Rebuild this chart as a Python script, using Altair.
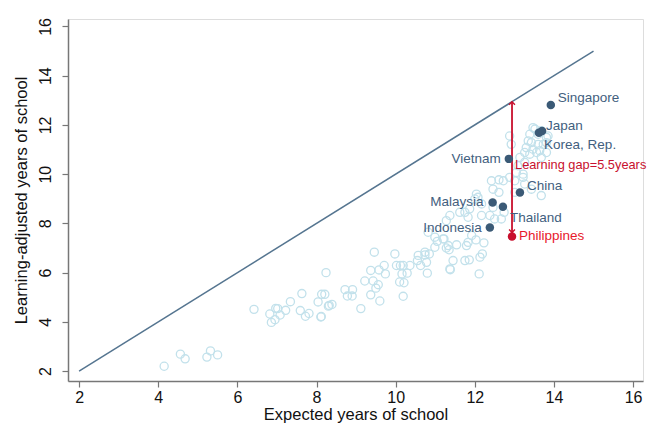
import altair as alt
import pandas as pd

# Background countries (expected years, learning-adjusted years)
bg_x = [4.15, 4.56, 4.68, 5.23, 5.32, 5.5,
        6.42, 6.82, 6.86, 6.95, 6.97, 7.02, 7.08, 7.22, 7.34, 7.59, 7.63, 7.72, 7.81, 8.04,
        8.11, 8.12, 8.13, 8.21, 8.24, 8.3, 8.32, 8.39,
        8.72, 8.91, 8.78, 8.9, 9.12, 9.22, 9.37, 9.37, 9.43, 9.5, 9.56, 9.58, 9.6, 9.71, 9.74, 9.46, 9.98,
        10.02, 10.12, 10.19, 10.36, 10.16, 10.29, 10.1, 10.21, 10.19, 10.55, 10.63, 10.74, 10.78, 10.8,
        10.85, 10.99, 11.05, 11.22, 11.28, 11.35, 11.45, 11.38, 11.54, 11.75, 11.86, 11.79, 11.83, 12.03,
        12.19, 12.23, 12.11,
        10.57, 10.74, 10.82, 10.99, 11.2, 11.33, 11.92, 12.13, 11.37,
        11.37, 11.28, 11.62, 11.75, 11.83, 11.87, 12.17, 12.38, 12.5, 12.67, 12.74, 12.46, 12.17, 12.04,
        12.08, 12.0, 12.42, 12.61, 12.46, 12.61, 12.88, 13.01, 13.22, 13.26, 13.43, 13.68, 12.72, 13.01,
        13.05, 13.22,
        13.52, 13.6, 13.68, 13.81, 13.39, 13.35, 13.43, 13.6, 13.73, 13.3, 13.47, 13.64, 13.26, 13.39,
        13.56, 13.81, 13.68, 13.14, 13.26, 13.09, 12.88, 12.92, 13.47, 13.85, 13.81]
bg_y = [2.2, 2.69, 2.5, 2.57, 2.82, 2.66,
        4.51, 4.32, 3.98, 4.09, 4.55, 4.54, 4.28, 4.47, 4.82, 4.46, 5.15, 4.23, 4.34, 4.81,
        4.2, 4.22, 5.12, 5.12, 6.0, 4.64, 4.67, 4.71,
        5.31, 5.31, 5.05, 5.05, 4.54, 5.66, 5.1, 6.09, 5.66, 5.37, 5.51, 6.11, 4.85, 6.29, 5.95, 6.83, 6.76,
        6.29, 6.29, 6.29, 6.29, 5.95, 5.98, 5.62, 5.59, 5.04, 6.49, 6.29, 6.72, 6.42, 5.98,
        6.76, 7.03, 7.27, 7.37, 7.0, 6.93, 6.49, 6.12, 7.13, 6.49, 6.52, 7.1, 7.23, 7.33,
        6.76, 7.21, 5.95,
        6.7, 6.83, 7.64, 7.44, 7.37, 7.1, 7.51, 6.63, 6.15,
        8.32, 8.11, 8.45, 8.45, 8.25, 8.59, 8.32, 8.32, 8.18, 8.18, 8.45, 8.65, 8.79, 9.19,
        9.06, 8.99, 9.73, 9.77, 9.39, 9.26, 9.87, 9.26, 9.87, 9.6, 9.39, 9.13, 9.73, 9.73,
        10.07, 10.0,
        11.83, 11.62, 11.76, 11.49, 11.62, 11.35, 11.28, 11.21, 11.21, 11.08, 11.01, 10.95, 10.88, 10.81,
        10.88, 10.88, 10.68, 10.68, 10.48, 10.34, 11.55, 11.21, 11.89, 11.55, 11.28]

# Highlighted countries
hl_names = ["Singapore", "Japan", "Korea, Rep.", "Vietnam", "China", "Malaysia", "Thailand", "Indonesia"]
hl_x = [13.92, 13.62, 13.7, 12.86, 13.14, 12.45, 12.71, 12.38]
hl_y = [12.81, 11.68, 11.75, 10.62, 9.25, 8.85, 8.68, 7.83]

ph_name = "Philippines"
ph_x = 12.94
ph_y = 7.47

diag_x = [2, 15]
diag_y = [2, 15]

gap_label = "Learning gap=5.5years"
gap_label_y = 10.38

x_ticks = [2, 4, 6, 8, 10, 12, 14, 16]
y_ticks = [2, 4, 6, 8, 10, 12, 14, 16]

FONT = "Liberation Sans"
HL_COLOR = "#3b5a76"
TXT_COLOR = "#42607e"
RED = "#c8102e"
RED_TXT = "#e8192c"

bg_df = pd.DataFrame({"x": bg_x, "y": bg_y})
hl_df = pd.DataFrame({"name": hl_names, "x": hl_x, "y": hl_y})
ph_df = pd.DataFrame({"name": [ph_name], "x": [ph_x], "y": [ph_y]})
diag_df = pd.DataFrame({"x": diag_x, "y": diag_y})
arrow_df = pd.DataFrame({"x": [ph_x], "y": [ph_y], "y2": [ph_x]})
gap_df = pd.DataFrame({"x": [ph_x], "y": [gap_label_y], "t": [gap_label]})

xs = alt.Scale(domain=[1.72, 16.25], nice=False, zero=False)
ys = alt.Scale(domain=[1.6, 16.3], nice=False, zero=False)

X = alt.X("x:Q", scale=xs, title="Expected years of school",
          axis=alt.Axis(values=x_ticks, grid=False, domainColor="#777777", tickColor="#777777",
                        domainWidth=1.5, tickWidth=1.2, tickSize=6, labelPadding=2,
                        labelFontSize=16, labelFont=FONT, labelColor="#111111",
                        titleFontSize=16.5, titleFont=FONT, titleFontWeight="normal",
                        titleColor="#111111", titlePadding=1))
Y = alt.Y("y:Q", scale=ys, title="Learning-adjusted years of school",
          axis=alt.Axis(values=y_ticks, grid=False, domainColor="#777777", tickColor="#777777",
                        domainWidth=1.5, tickWidth=1.2, tickSize=6, labelPadding=9,
                        labelAngle=270, labelAlign="center", labelBaseline="bottom",
                        labelFontSize=16, labelFont=FONT, labelColor="#111111",
                        titleFontSize=16.5, titleFont=FONT, titleFontWeight="normal",
                        titleColor="#111111", titlePadding=8))

diag = alt.Chart(diag_df).mark_line(color="#557590", strokeWidth=1.5).encode(x=X, y=Y)

bg = alt.Chart(bg_df).mark_point(shape="circle", filled=False, size=66, strokeWidth=1.3,
                                 color="#c2e1eb", opacity=1).encode(x="x:Q", y="y:Q")

arrow = alt.Chart(arrow_df).mark_rule(color=RED, strokeWidth=1.8).encode(x="x:Q", y="y:Q", y2="y2:Q")
head_top = alt.Chart(arrow_df).mark_point(shape="M-0.7,0.7L0,0L0.7,0.7", filled=False, size=70,
                                          strokeWidth=1.4, color=RED, opacity=1).encode(
    x="x:Q", y=alt.Y("y2:Q"))
head_bot = alt.Chart(arrow_df).mark_point(shape="M-0.7,-0.7L0,0L0.7,-0.7", filled=False, size=70,
                                          strokeWidth=1.4, color=RED, opacity=1).encode(
    x="x:Q", y="y:Q", yOffset=alt.value(-4))

hl = alt.Chart(hl_df).mark_point(shape="circle", filled=True, size=72, color=HL_COLOR,
                                 opacity=1).encode(x="x:Q", y="y:Q")
ph = alt.Chart(ph_df).mark_point(shape="circle", filled=True, size=72, color=RED,
                                 opacity=1).encode(x="x:Q", y="y:Q")


def lab(name, dx, dy, align):
    return alt.Chart(hl_df[hl_df["name"] == name]).mark_text(
        align=align, baseline="middle", dx=dx, dy=dy, fontSize=13.5, font=FONT, color=TXT_COLOR
    ).encode(x="x:Q", y="y:Q", text="name:N")


labels = [
    lab("Singapore", 7, -7, "left"),
    lab("Japan", 7, -7, "left"),
    lab("Korea, Rep.", 2, 14, "left"),
    lab("Vietnam", -8, 0, "right"),
    lab("China", 7, -7, "left"),
    lab("Malaysia", -9, 0, "right"),
    lab("Thailand", 7, 11, "left"),
    lab("Indonesia", -8, 0, "right"),
]
ph_lab = alt.Chart(ph_df).mark_text(align="left", baseline="middle", dx=7, fontSize=13.5, font=FONT,
                                    color=RED_TXT).encode(x="x:Q", y="y:Q", text="name:N")
gap_lab = alt.Chart(gap_df).mark_text(align="left", baseline="middle", dx=3, fontSize=12.8, font=FONT,
                                      color=RED).encode(x="x:Q", y="y:Q", text="t:N")

chart = alt.layer(diag, bg, arrow, head_top, head_bot, hl, ph, *labels, ph_lab, gap_lab).properties(
    width=575, height=362,
    autosize=alt.AutoSizeParams(type="none"),
    padding={"left": 60, "top": 11, "right": 7, "bottom": 42},
).configure_view(stroke=None).configure(background="white")

chart.save("out.html", embed_options={"renderer": "svg", "actions": False})
